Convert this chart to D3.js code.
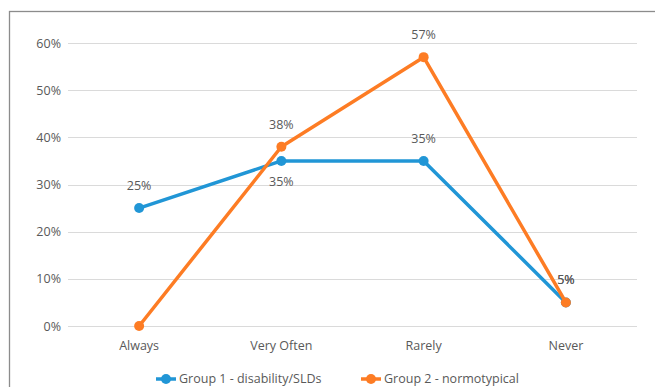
<!DOCTYPE html>
<html>
<head>
<meta charset="utf-8">
<script src="https://cdn.jsdelivr.net/npm/d3@7"></script>
<style>
  body { margin: 0; background: #fff; }
  svg { display: block; font-family: "Open Sans", "Noto Sans", sans-serif; }
</style>
</head>
<body>
<svg width="655" height="387"></svg>
<script>
// chart values
const categories = ["Always", "Very Often", "Rarely", "Never"];
const group1 = [25, 35, 35, 5];
const group2 = [0, 38, 57, 5];
const yTicks = [0, 10, 20, 30, 40, 50, 60];
const seriesNames = ["Group 1 - disability/SLDs", "Group 2 - normotypical"];
// label placement per point: "above", "below" or null for no label
const labelPos1 = ["above", "below", "above", "above"];
const labelPos2 = [null, "above", "above", "above"];

const colors = ["#2196d6", "#fd7c24"];

let svg = d3.select("svg");

// outer chart border
svg.append("rect")
  .attr("x", 9.5).attr("y", 11.5)
  .attr("width", 700).attr("height", 400)
  .attr("fill", "none").attr("stroke", "#8c8c8c").attr("stroke-width", 1.3);

let x = d3.scaleBand().domain(categories).range([68, 637]);
let y = d3.scaleLinear().domain([0, 60]).range([326, 43]);

// gridlines
svg.append("g")
  .selectAll("line")
  .data(yTicks)
  .enter().append("line")
    .attr("x1", 68).attr("x2", 637)
    .attr("y1", d => Math.round(y(d)) + 0.5)
    .attr("y2", d => Math.round(y(d)) + 0.5)
    .attr("stroke", "#dadada").attr("stroke-width", 1.2);

// y axis labels
svg.append("g")
  .selectAll("text")
  .data(yTicks)
  .enter().append("text")
    .attr("x", 61).attr("y", d => y(d) + 4.5)
    .attr("text-anchor", "end")
    .attr("font-size", 12.5).attr("fill", "#595959")
    .text(d => d + "%");

// x axis labels
svg.append("g")
  .selectAll("text")
  .data(categories)
  .enter().append("text")
    .attr("x", d => x(d) + x.bandwidth() / 2).attr("y", 350)
    .attr("text-anchor", "middle")
    .attr("font-size", 12.5).attr("fill", "#595959")
    .text(d => d);

const cx = (d, i) => x(categories[i]) + x.bandwidth() / 2;
let line = d3.line().x(cx).y(d => y(d));

function drawSeries(values, color) {
  let g = svg.append("g");
  g.append("path")
    .datum(values)
    .attr("d", line)
    .attr("fill", "none").attr("stroke", color)
    .attr("stroke-width", 3.5).attr("stroke-linejoin", "round");
  g.selectAll("circle")
    .data(values)
    .enter().append("circle")
      .attr("cx", cx).attr("cy", d => y(d))
      .attr("r", 5).attr("fill", color);
}

drawSeries(group1, colors[0]);
drawSeries(group2, colors[1]);

function drawLabels(values, pos) {
  let pts = values.map((v, i) => ({ v: v, i: i, pos: pos[i] }))
    .filter(p => p.pos !== null);
  svg.append("g")
    .selectAll("text")
    .data(pts)
    .enter().append("text")
      .attr("x", p => x(categories[p.i]) + x.bandwidth() / 2)
      .attr("y", p => p.pos === "above" ? y(p.v) - 18 : y(p.v) + 25)
      .attr("text-anchor", "middle")
      .attr("font-size", 12.5).attr("fill", "#595959")
      .text(p => p.v + "%");
}

drawLabels(group1, labelPos1);
drawLabels(group2, labelPos2);

// legend
const legendX = [156, 361];
let legend = svg.append("g");
seriesNames.forEach((name, i) => {
  legend.append("line")
    .attr("x1", legendX[i]).attr("x2", legendX[i] + 20)
    .attr("y1", 379).attr("y2", 379)
    .attr("stroke", colors[i]).attr("stroke-width", 3.5);
  legend.append("circle")
    .attr("cx", legendX[i] + 10).attr("cy", 379).attr("r", 5)
    .attr("fill", colors[i]);
  legend.append("text")
    .attr("x", legendX[i] + 23).attr("y", 383)
    .attr("font-size", 12.5).attr("fill", "#595959")
    .text(name);
});
</script>
</body>
</html>
